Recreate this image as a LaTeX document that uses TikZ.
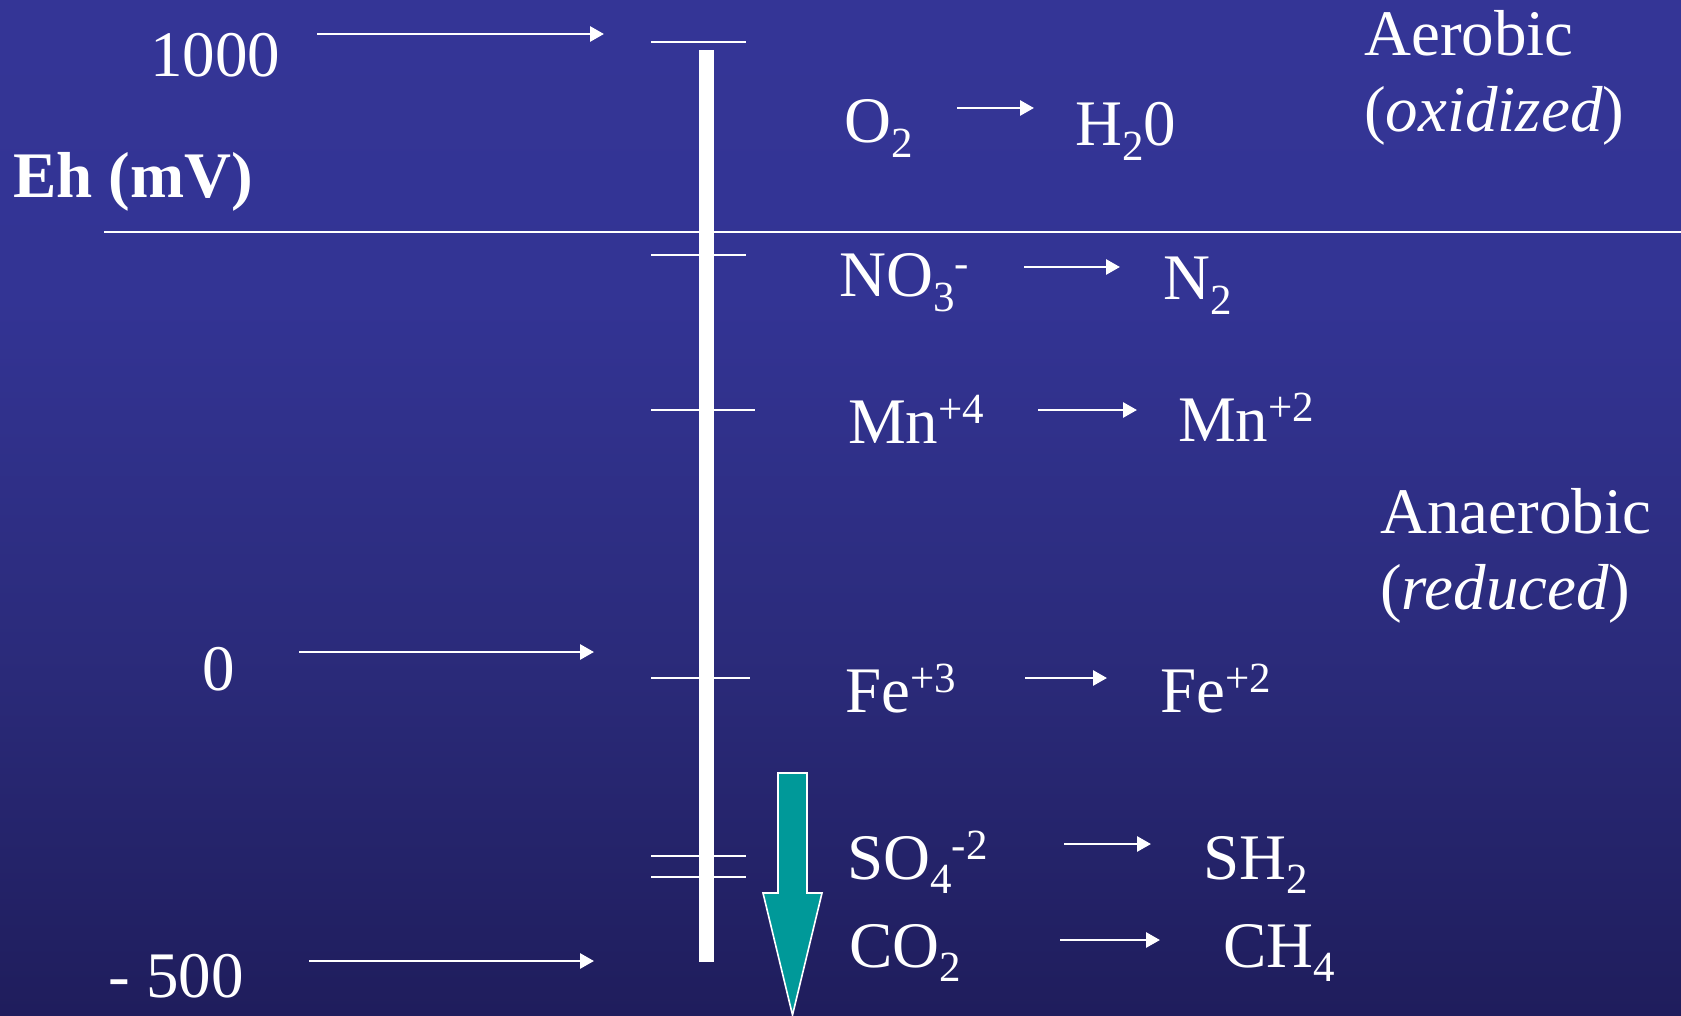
\documentclass[tikz,border=0pt]{standalone}
\usepackage{fontspec}
\setmainfont{Liberation Serif}
\usetikzlibrary{arrows.meta}
\definecolor{bgA}{HTML}{343596}
\definecolor{bgB}{HTML}{333494}
\definecolor{bgC}{HTML}{2B2B7B}
\definecolor{bgD}{HTML}{1F1D5C}
\definecolor{tealarrow}{HTML}{009999}
\newcommand\lowsub[1]{\raisebox{-0.22em}{\fontsize{43}{43}\selectfont #1}}
\newcommand\highsup[1]{\raisebox{0.3em}{\fontsize{43}{43}\selectfont #1}}
\begin{document}
\begin{tikzpicture}[x=1pt,y=-1pt,
  lbl/.style={anchor=base west, inner sep=0pt, text=white, font=\fontsize{65}{78}\selectfont},
  rarrow/.style={white, line width=2.8pt, -{Triangle[length=14pt,width=15pt]}},
  tickline/.style={white, line width=2.6pt}]
\useasboundingbox (0,0) rectangle (1681,1016);
% background
\fill[top color=bgA, bottom color=bgB] (0,0) rectangle (1681,300.5);
\fill[top color=bgB, bottom color=bgC] (0,300) rectangle (1681,650.5);
\fill[top color=bgC, bottom color=bgD] (0,650) rectangle (1681,1016);
% divider
\draw[white, line width=2.6pt] (104,232) -- (1681,232);
% scale bar
\fill[white] (699,50) rectangle (714,962);
% ticks
\foreach \yy/\x in {42/746, 255/746, 410/755, 678/750, 856/746, 877/746}
  \draw[tickline] (651,\yy) -- (\x,\yy);
% teal arrow
\fill[tealarrow, draw=white, line width=1.6pt]
  (778,773) -- (807,773) -- (807,893) -- (822,893) -- (792.5,1015) -- (763,893) -- (778,893) -- cycle;
% labels left
\node[lbl] (n1000) at (150,77) {1000};
\node[lbl, font=\fontsize{65}{78}\selectfont\bfseries] (eh) at (13,198) {Eh (mV)};
\node[lbl] (n0) at (202,690) {0};
\node[lbl] (n500) at (108,997) {- 500};
% scale arrows
\coordinate (a1s) at (317,34); \coordinate (a1e) at (604,34);
\coordinate (a2s) at (299,652); \coordinate (a2e) at (594,652);
\coordinate (a3s) at (309,961); \coordinate (a3e) at (594,961);
\draw[rarrow] (a1s) -- (a1e);
\draw[rarrow] (a2s) -- (a2e);
\draw[rarrow] (a3s) -- (a3e);
% reactions
\node[lbl] (o2) at (844,143) {O\lowsub{2}};
\node[lbl] (h2o) at (1075,146) {H\lowsub{2}0};
\node[lbl] (no3) at (839,297) {NO\lowsub{3}\highsup{-}};
\node[lbl] (n2) at (1163,300) {N\lowsub{2}};
\node[lbl] (mn4) at (848,443) {Mn\highsup{+4}};
\node[lbl] (mn2) at (1178,441) {Mn\highsup{+2}};
\node[lbl] (fe3) at (845,712) {Fe\highsup{+3}};
\node[lbl] (fe2) at (1160,712) {Fe\highsup{+2}};
\node[lbl] (so4) at (847,879) {SO\lowsub{4}\highsup{-2}};
\node[lbl] (sh2) at (1203,879) {SH\lowsub{2}};
\node[lbl] (co2) at (849,967) {CO\lowsub{2}};
\node[lbl] (ch4) at (1223,967) {CH\lowsub{4}};
\coordinate (r1s) at (957,108); \coordinate (r1e) at (1034,108);
\coordinate (r2s) at (1024,267); \coordinate (r2e) at (1120,267);
\coordinate (r3s) at (1038,410); \coordinate (r3e) at (1137,410);
\coordinate (r4s) at (1025,678); \coordinate (r4e) at (1107,678);
\coordinate (r5s) at (1064,844); \coordinate (r5e) at (1151,844);
\coordinate (r6s) at (1060,940); \coordinate (r6e) at (1160,940);
\draw[rarrow] (r1s) -- (r1e);
\draw[rarrow] (r2s) -- (r2e);
\draw[rarrow] (r3s) -- (r3e);
\draw[rarrow] (r4s) -- (r4e);
\draw[rarrow] (r5s) -- (r5e);
\draw[rarrow] (r6s) -- (r6e);
% zone labels
\node[lbl] (aer) at (1364,56) {Aerobic};
\node[lbl] (oxi) at (1364,132) {(\textit{oxidized})};
\node[lbl] (ana) at (1380,533) {Anaerobic};
\node[lbl] (red) at (1380,609) {(\textit{reduced})};
\end{tikzpicture}
\end{document}
